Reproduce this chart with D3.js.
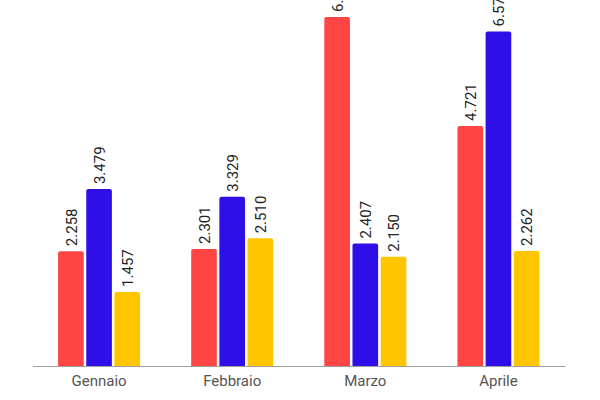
<!DOCTYPE html>
<html>
<head>
<meta charset="utf-8">
<script src="https://cdn.jsdelivr.net/npm/d3@7"></script>
<style>
  html, body { margin: 0; padding: 0; background: #fff; }
  svg { display: block; font-family: Roboto, "Noto Sans", sans-serif; }
</style>
</head>
<body>
<div id="chart"></div>
<script>
// Data
var months = ['Gennaio', 'Febbraio', 'Marzo', 'Aprile'];
var seriesNames = ['A', 'B', 'C'];
var seriesA = [2.258, 2.301, 6.864, 4.721];
var seriesB = [3.479, 3.329, 2.407, 6.578];
var seriesC = [1.457, 2.510, 2.150, 2.262];
var colors = ['#ff4444', '#2e0fe8', '#ffc600'];

// Set the margins and size of the plot area.
var margin = {left: 32.5, right: 35, top: 10, bottom: 34};
var width = 600 - margin.left - margin.right,
    height = 400 - margin.top - margin.bottom;

var svg = d3.select('#chart')
    .append('svg')
        .attr('width', 600)
        .attr('height', 400)
    .append('g')
        .attr('transform', 'translate(' + margin.left + ', ' + margin.top + ')');

// Build rows from the arrays.
var rows = months.map(function(m, i){
    return {month: m, values: [seriesA[i], seriesB[i], seriesC[i]]};
});

// Outer scale for the months, inner scale for the three series.
var x0 = d3.scaleBand()
    .domain(months)
    .range([0, width])
    .paddingInner(0.384)
    .paddingOuter(0.192);

var x1 = d3.scaleBand()
    .domain(seriesNames)
    .range([0, x0.bandwidth()])
    .paddingInner(0.09);

var y = d3.scaleLinear()
    .domain([0, 7])
    .range([height, 0]);

// Bars and value labels.
var groups = svg.selectAll('g.group')
    .data(rows)
    .enter().append('g')
        .attr('class', 'group')
        .attr('transform', function(d){ return 'translate(' + x0(d.month) + ', 0)'; });

var cells = groups.selectAll('g.cell')
    .data(function(d){
        return d.values.map(function(v, i){ return {key: seriesNames[i], value: v, idx: i}; });
    })
    .enter().append('g')
        .attr('class', 'cell');

cells.append('path')
    .attr('d', function(d){
        var x = x1(d.key), w = x1.bandwidth(), t = y(d.value), b = y(0), r = 2;
        return 'M' + x + ',' + b +
            'V' + (t + r) +
            'Q' + x + ',' + t + ' ' + (x + r) + ',' + t +
            'H' + (x + w - r) +
            'Q' + (x + w) + ',' + t + ' ' + (x + w) + ',' + (t + r) +
            'V' + b + 'Z';
    })
    .attr('fill', function(d){ return colors[d.idx]; });

cells.append('text')
    .attr('transform', function(d){
        return 'translate(' + (x1(d.key) + x1.bandwidth() / 2) + ', ' + (y(d.value) - 5) + ') rotate(-90)';
    })
    .attr('dy', '0.38em')
    .attr('text-anchor', 'start')
    .style('font-size', '15px')
    .style('fill', '#222')
    .text(function(d){ return d3.format('.3f')(d.value); });

// Bottom axis: plain grey line, month names under it.
var xAxisCall = d3.axisBottom(x0)
    .tickSize(0)
    .tickPadding(9);

var xAxis = svg.append('g')
    .attr('class', 'x-axis')
    .attr('transform', 'translate(0, ' + height + ')')
    .call(xAxisCall);

xAxis.select('.domain')
    .attr('stroke', '#9e9e9e')
    .attr('stroke-width', 1.2);

xAxis.selectAll('text')
    .style('font-size', '15px')
    .style('font-family', 'Roboto, sans-serif')
    .style('fill', '#555');
</script>
</body>
</html>
